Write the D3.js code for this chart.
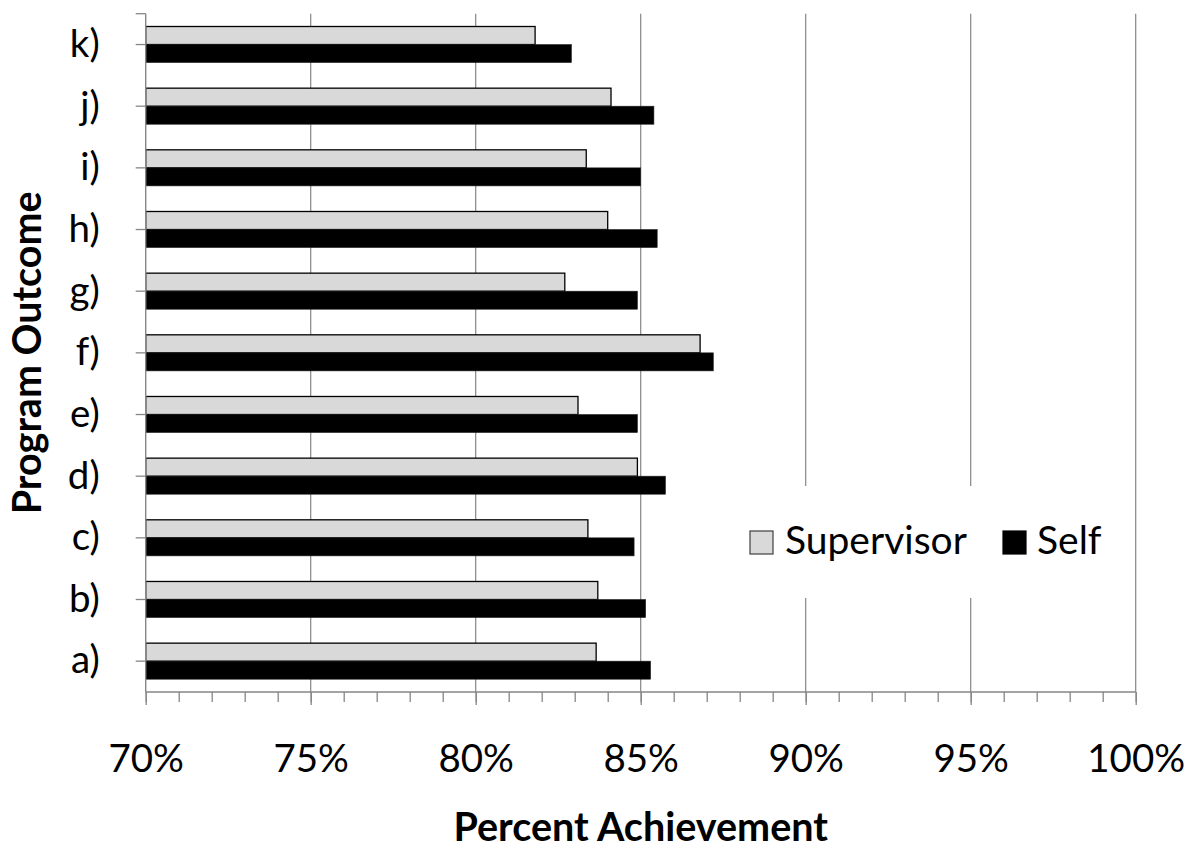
<!DOCTYPE html>
<html>
<head>
<meta charset="utf-8">
<script src="https://cdn.jsdelivr.net/npm/d3@7"></script>
<style>
  html, body { margin: 0; padding: 0; background: #fff; }
  svg { display: block; }
  text { font-family: Lato, "Open Sans", sans-serif; fill: #000; }
</style>
</head>
<body>
<svg id="chart" width="1198" height="848"></svg>
<script>
// Program outcomes, bottom (a) to top (k)
const categories = ["a)", "b)", "c)", "d)", "e)", "f)", "g)", "h)", "i)", "j)", "k)"];
// Percent achievement per outcome
const supervisor = [83.65, 83.7, 83.4, 84.9, 83.1, 86.8, 82.7, 84.0, 83.35, 84.1, 81.8];
const self       = [85.3, 85.15, 84.8, 85.75, 84.9, 87.2, 84.9, 85.5, 85.0, 85.4, 82.9];
const seriesNames = ["Supervisor", "Self"];
const xTicks = [70, 75, 80, 85, 90, 95, 100];
const xMinorTicks = d3.range(70, 101, 1);

const colors = { Supervisor: "#d9d9d9", Self: "#000000" };
const axisColor = "#868686";

const svg = d3.select("#chart");
const plot = { left: 145.7, right: 1135.7, top: 13.7, bottom: 692 };

const x = d3.scaleLinear().domain([70, 100]).range([plot.left, plot.right]);
const y = d3.scaleBand()
  .domain(categories.slice().reverse())
  .range([plot.top, plot.bottom])
  .padding(0);
const ySeries = d3.scaleBand()
  .domain(seriesNames)
  .range([0, y.bandwidth()])
  .paddingInner(0)
  .paddingOuter(0.71);

const rows = categories.map((c, i) => ({ cat: c, Supervisor: supervisor[i], Self: self[i] }));

// vertical gridlines
svg.append("g")
  .selectAll("line")
  .data(xTicks.slice(1))
  .join("line")
  .attr("x1", d => x(d)).attr("x2", d => x(d))
  .attr("y1", plot.top).attr("y2", plot.bottom)
  .attr("stroke", axisColor).attr("stroke-width", 1.2);

// bars
const groups = svg.append("g")
  .selectAll("g")
  .data(rows)
  .join("g")
  .attr("transform", d => `translate(0,${y(d.cat)})`);

groups.selectAll("rect")
  .data(d => seriesNames.map(s => ({ s, v: d[s] })))
  .join("rect")
  .attr("x", x(70))
  .attr("y", d => ySeries(d.s))
  .attr("width", d => x(d.v) - x(70))
  .attr("height", ySeries.bandwidth())
  .attr("fill", d => colors[d.s])
  .attr("stroke", d => d.s === "Supervisor" ? "#000" : "#222")
  .attr("stroke-width", d => d.s === "Supervisor" ? 1.3 : 0.6);

// x axis: major and minor ticks
const xAxisG = svg.append("g").attr("transform", `translate(0,${plot.bottom})`);
xAxisG.append("g")
  .call(d3.axisBottom(x).tickValues(xMinorTicks).tickSize(10).tickFormat(""))
  .call(g => g.select(".domain").remove())
  .call(g => g.selectAll("line").attr("stroke", axisColor).attr("stroke-width", 1.3));
xAxisG.append("g")
  .call(d3.axisBottom(x).tickValues(xTicks).tickSize(13).tickPadding(40)
    .tickFormat(d => d + "%"))
  .call(g => g.select(".domain").remove())
  .call(g => g.selectAll("line").attr("stroke", axisColor).attr("stroke-width", 1.3))
  .call(g => g.selectAll("text").attr("font-size", 38.5).attr("font-family", "Lato").attr("fill", "#000"));
xAxisG.append("line")
  .attr("x1", plot.left).attr("x2", plot.right)
  .attr("stroke", axisColor).attr("stroke-width", 1.4);

// y axis
const yAxisG = svg.append("g").attr("transform", `translate(${plot.left},0)`);
yAxisG.append("g")
  .call(d3.axisLeft(y).tickSize(10).tickPadding(36))
  .call(g => g.select(".domain").remove())
  .call(g => g.selectAll("line").attr("stroke", axisColor).attr("stroke-width", 1.3))
  .call(g => g.selectAll("text").attr("font-size", 38.5).attr("font-family", "Lato").attr("fill", "#000"));
yAxisG.append("line")
  .attr("x1", -10).attr("x2", 0)
  .attr("y1", plot.top).attr("y2", plot.top)
  .attr("stroke", axisColor).attr("stroke-width", 1.3);
yAxisG.append("line")
  .attr("y1", plot.top).attr("y2", plot.bottom)
  .attr("stroke", axisColor).attr("stroke-width", 1.4);

// axis titles
svg.append("text")
  .attr("x", (plot.left + plot.right) / 2)
  .attr("y", 841)
  .attr("text-anchor", "middle")
  .attr("font-size", 39.5)
  .attr("font-weight", "bold")
  .text("Percent Achievement");

svg.append("text")
  .attr("transform", `translate(41,${(plot.top + plot.bottom) / 2}) rotate(-90)`)
  .attr("text-anchor", "middle")
  .attr("font-size", 39.5)
  .attr("font-weight", "bold")
  .text("Program Outcome");

// legend
const legend = svg.append("g");
legend.append("rect")
  .attr("x", 740).attr("y", 486).attr("width", 375).attr("height", 112)
  .attr("fill", "#fff");
const legendItems = [
  { name: "Supervisor", sx: 750, tx: 785 },
  { name: "Self", sx: 1003, tx: 1037 }
];
legendItems.forEach(it => {
  legend.append("rect")
    .attr("x", it.sx).attr("y", 531).attr("width", 23).attr("height", 23)
    .attr("fill", colors[it.name])
    .attr("stroke", it.name === "Supervisor" ? "#404040" : "#000")
    .attr("stroke-width", 1.2);
  legend.append("text")
    .attr("x", it.tx).attr("y", 554)
    .attr("font-size", 39)
    .text(it.name);
});
</script>
</body>
</html>
